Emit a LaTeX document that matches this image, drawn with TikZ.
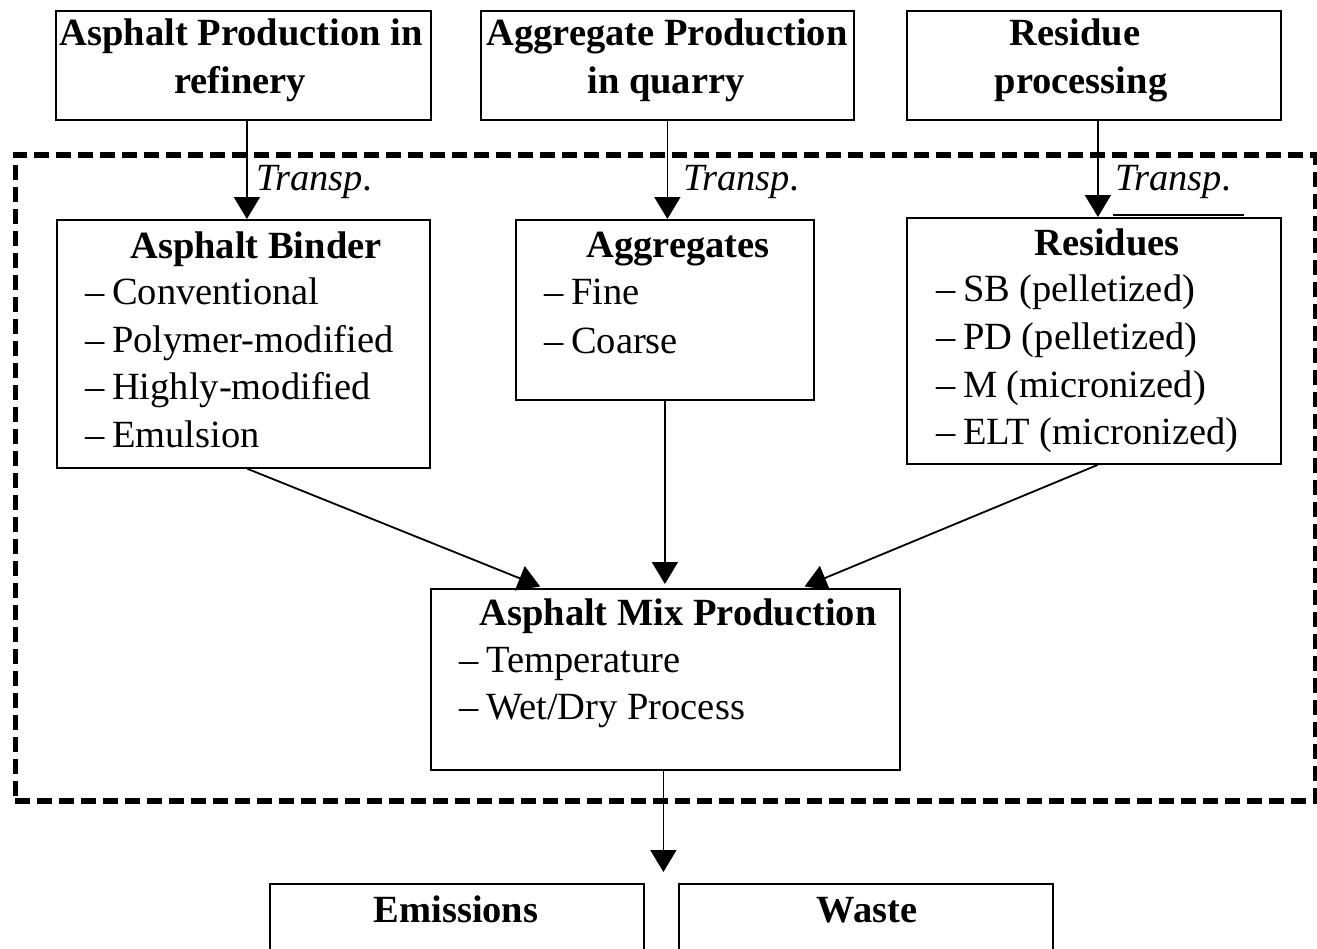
\documentclass[tikz,border=0pt]{standalone}
\usepackage{fontspec}
\setmainfont{Liberation Serif}
\usetikzlibrary{arrows.meta,calc}
\newcommand{\dsh}{--\hspace{0.2em}}
\begin{document}
\fontsize{38.5}{47}\selectfont
\begin{tikzpicture}[x=1pt,y=-1pt,
  box/.style={draw, line width=1.8pt, inner sep=0pt, anchor=north west},
  frm/.style={draw, line width=5.5pt, dash pattern=on 15pt off 7pt, inner sep=0pt, anchor=north west},
  ttl/.style={font=\bfseries, inner sep=0pt, anchor=base},
  itm/.style={inner sep=0pt, anchor=base west},
  trn/.style={font=\itshape, inner sep=0pt, anchor=base west},
  arr/.style={line width=1.8pt, -{Triangle[width=26pt,length=22pt]}}]
\clip (0,0) rectangle (1317,948);
\useasboundingbox (0,0) rectangle (1317,948);
% dashed system boundary
\node[frm, minimum width=1300pt, minimum height=646pt] (frame) at (12.5,152) {};
% top boxes
\node[box, minimum width=375pt, minimum height=109pt] (a1) at (55,10) {};
\node[box, minimum width=373pt, minimum height=109pt] (a2) at (480,10) {};
\node[box, minimum width=374pt, minimum height=109pt] (a3) at (906,10) {};
\node[ttl] (a1t1) at (241,45) {Asphalt Production in};
\node[ttl] (a1t2) at (240,93) {refinery};
\node[ttl] (a2t1) at (667,45) {Aggregate Production};
\node[ttl] (a2t2) at (666,93) {in quarry};
\node[ttl] (a3t1) at (1075,45) {Residue};
\node[ttl] (a3t2) at (1081,93) {processing};
% middle boxes
\node[box, minimum width=373pt, minimum height=248pt] (b1) at (56,219) {};
\node[box, minimum width=298pt, minimum height=180pt] (b2) at (515,219) {};
\node[box, minimum width=374pt, minimum height=246pt] (b3) at (906,217) {};
\node[ttl] (b1t) at (256,258) {Asphalt Binder};
\node[itm] (b1i1) at (85,304) {\dsh Conventional};
\node[itm] (b1i2) at (85,352) {\dsh Polymer-modified};
\node[itm] (b1i3) at (85,399) {\dsh Highly-modified};
\node[itm] (b1i4) at (85,447) {\dsh Emulsion};
\node[ttl] (b2t) at (678,257) {Aggregates};
\node[itm] (b2i1) at (544,304) {\dsh Fine};
\node[itm] (b2i2) at (544,353) {\dsh Coarse};
\node[ttl] (b3t) at (1107,255) {Residues};
\node[itm] (b3i1) at (936,301) {\dsh SB (pelletized)};
\node[itm] (b3i2) at (936,349) {\dsh PD (pelletized)};
\node[itm] (b3i3) at (936,397) {\dsh M (micronized)};
\node[itm] (b3i4) at (936,444) {\dsh ELT (micronized)};
\draw[line width=2pt] ($(b3.north)+(19,-2)$) -- ($(b3.north)+(150,-2)$);
% mix box
\node[box, minimum width=469pt, minimum height=181pt] (mix) at (430,588) {};
\node[ttl] (mixt) at (678,625) {Asphalt Mix Production};
\node[itm] (mixi1) at (459,672) {\dsh Temperature};
\node[itm] (mixi2) at (459,719) {\dsh Wet/Dry Process};
% output boxes
\node[box, minimum width=374pt, minimum height=100pt] (em) at (269,883) {};
\node[box, minimum width=374pt, minimum height=100pt] (wa) at (678,883) {};
\node[ttl] (emt) at (456,922) {Emissions};
\node[ttl] (wat) at (867,922) {Waste};
% transport labels
\node[trn] (tr1) at (256,190) {Transp.};
\node[trn] (tr2) at (683,190) {Transp.};
\node[trn] (tr3) at (1115,190) {Transp.};
% connectors
\draw[arr] ([xshift=3.5pt]a1.south) -- ([xshift=3.5pt]a1.south |- b1.north);
\draw[arr] (a2.south) -- (a2.south |- b2.north);
\draw[arr] ([xshift=4pt]a3.south) -- ([xshift=4pt]a3.south |- b3.north);
\draw[arr, shorten >=4pt] ([xshift=4pt]b1.south) -- ([xshift=-121.5pt]mix.north);
\draw[arr, shorten >=4pt] (b2.south) -- (b2.south |- mix.north);
\draw[arr, shorten >=4pt] ([xshift=4pt]b3.south) -- ([xshift=135.5pt]mix.north);
\draw[arr, shorten >=11pt] ([xshift=-2pt]mix.south) -- ([xshift=-2pt]mix.south |- em.north);
\end{tikzpicture}
\end{document}
